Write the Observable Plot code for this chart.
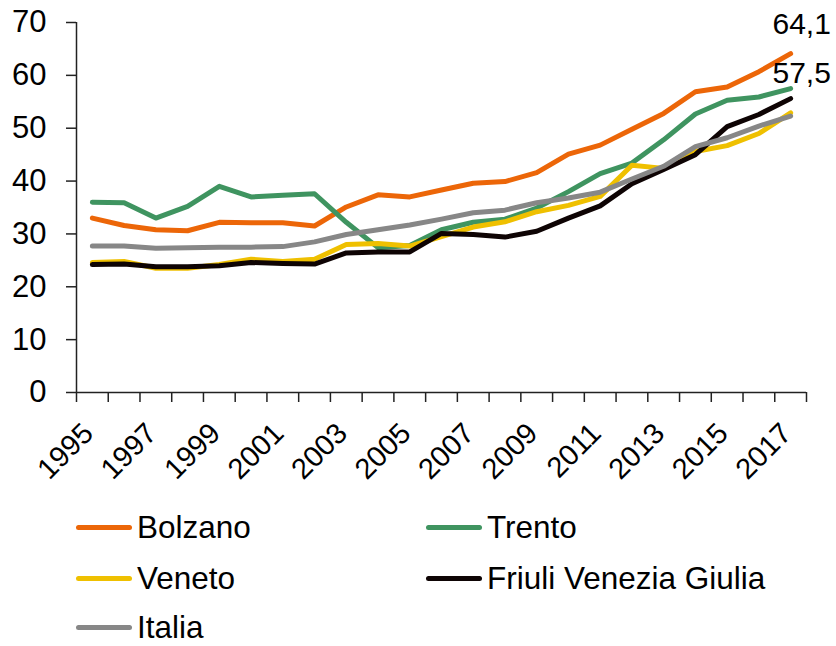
<!DOCTYPE html>
<html>
<head>
<meta charset="utf-8">
<script src="https://cdn.jsdelivr.net/npm/d3@7"></script>
<script src="https://cdn.jsdelivr.net/npm/@observablehq/plot@0.6"></script>
<style>
  html, body { margin: 0; padding: 0; background: #fff; }
  body { width: 836px; height: 646px; overflow: hidden; font-family: "Liberation Sans", Arial, sans-serif; }
  #wrap { position: relative; width: 836px; height: 646px; }
  #legend { position: absolute; left: 0; top: 495px; width: 836px; height: 151px; }
  .item { position: absolute; display: flex; align-items: center; font-size: 31.5px; color: #000; line-height: 26px; height: 26px; white-space: nowrap; }
  .sw { width: 56px; height: 5px; border-radius: 3px; margin-right: 5px; }
</style>
</head>
<body>
<div id="wrap"><div id="chart"></div><div id="legend"></div></div>
<script>
const years = [1995,1996,1997,1998,1999,2000,2001,2002,2003,2004,2005,2006,2007,2008,2009,2010,2011,2012,2013,2014,2015,2016,2017];
const seriesNames = ["Bolzano","Trento","Veneto","Friuli Venezia Giulia","Italia"];
const seriesColors = ["#EC6608","#3F9460","#EFC000","#0E0404","#878787"];
const bolzano = [33.0,31.6,30.8,30.6,32.2,32.1,32.1,31.5,35.1,37.4,37.0,38.3,39.6,39.9,41.6,45.1,46.8,49.8,52.8,56.9,57.8,60.7,64.1];
const trento  = [36.0,35.9,33.0,35.2,39.0,37.0,37.3,37.6,32.2,27.4,27.8,30.8,32.2,32.8,34.9,38.0,41.4,43.4,47.8,52.7,55.3,55.9,57.5];
const veneto  = [24.6,24.8,23.5,23.5,24.2,25.2,24.8,25.2,28.0,28.2,27.7,29.5,31.3,32.3,34.2,35.4,37.1,43.0,42.4,45.6,46.7,49.0,52.9];
const fvg     = [24.2,24.3,23.8,23.8,24.0,24.6,24.4,24.3,26.4,26.6,26.6,30.1,29.9,29.4,30.5,33.0,35.3,39.5,42.2,45.0,50.3,52.6,55.6];
const italia  = [27.7,27.7,27.3,27.4,27.5,27.5,27.6,28.5,29.9,30.8,31.7,32.8,34.0,34.5,35.9,36.8,37.9,40.4,42.8,46.5,48.2,50.4,52.3];
const yTicks = [0,10,20,30,40,50,60,70];
const xTickLabels = [1995,1997,1999,2001,2003,2005,2007,2009,2011,2013,2015,2017];
const labelSeries = ["Bolzano","Trento"];

const valuesBySeries = [bolzano, trento, veneto, fvg, italia];
const data = [];
seriesNames.forEach((s, i) => years.forEach((yr, j) => data.push({series: s, year: yr, value: valuesBySeries[i][j]})));
const lastYear = years[years.length - 1];
const boundaries = years.map(y => y - 0.5).concat([lastYear + 0.5]);
const lastOf = name => data.filter(d => d.series === name && d.year === lastYear);
const fmt = v => v.toFixed(1).replace(".", ",");

const font = "Liberation Sans, Arial, sans-serif";
const chart = Plot.plot({
  width: 836,
  height: 495,
  marginLeft: 76,
  marginRight: 30,
  marginTop: 22,
  marginBottom: 103,
  style: {fontFamily: font, color: "#000", background: "transparent", overflow: "visible"},
  x: {type: "linear", domain: [years[0] - 0.5, lastYear + 0.5]},
  y: {domain: [0, 70]},
  color: {domain: seriesNames, range: seriesColors},
  marks: [
    Plot.axisY({ticks: yTicks, tickSize: 10, tickPadding: 20, fontSize: 31, stroke: "#222", strokeWidth: 1.5, label: null, tickFormat: d => String(d)}),
    Plot.axisX({ticks: boundaries, tickSize: 10, tickFormat: () => "", stroke: "#222", strokeWidth: 1.5, label: null}),
    Plot.ruleX([years[0] - 0.5], {y1: 0, y2: 70, stroke: "#222", strokeWidth: 1.5}),
    Plot.ruleY([0], {stroke: "#222", strokeWidth: 1.5}),
    Plot.text(xTickLabels, {x: d => d, y: 0, text: d => String(d), rotate: -45, textAnchor: "end", lineAnchor: "middle", dx: -4, dy: 36, fontSize: 29, fill: "#000"}),
    Plot.line(data, {x: "year", y: "value", z: "series", stroke: "series", strokeWidth: 5, strokeLinecap: "round", strokeLinejoin: "round"}),
    Plot.text(lastOf(labelSeries[0]), {x: "year", y: "value", text: d => fmt(d.value), dx: 11, dy: -29, fontSize: 30, fill: "#000", textAnchor: "middle", lineAnchor: "middle"}),
    Plot.text(lastOf(labelSeries[1]), {x: "year", y: "value", text: d => fmt(d.value), dx: 11, dy: -15, fontSize: 30, fill: "#000", textAnchor: "middle", lineAnchor: "middle"})
  ]
});
document.getElementById("chart").appendChild(chart);

// legend
const legendPos = [[76, 32], [426, 32], [76, 83], [426, 83], [76, 132]];
const legend = document.getElementById("legend");
seriesNames.forEach((s, i) => {
  const it = document.createElement("div");
  it.className = "item";
  it.style.left = legendPos[i][0] + "px";
  it.style.top = (legendPos[i][1] - 13) + "px";
  const sw = document.createElement("span");
  sw.className = "sw";
  sw.style.background = seriesColors[i];
  const tx = document.createElement("span");
  tx.textContent = s;
  it.appendChild(sw); it.appendChild(tx);
  legend.appendChild(it);
});
</script>
</body>
</html>
